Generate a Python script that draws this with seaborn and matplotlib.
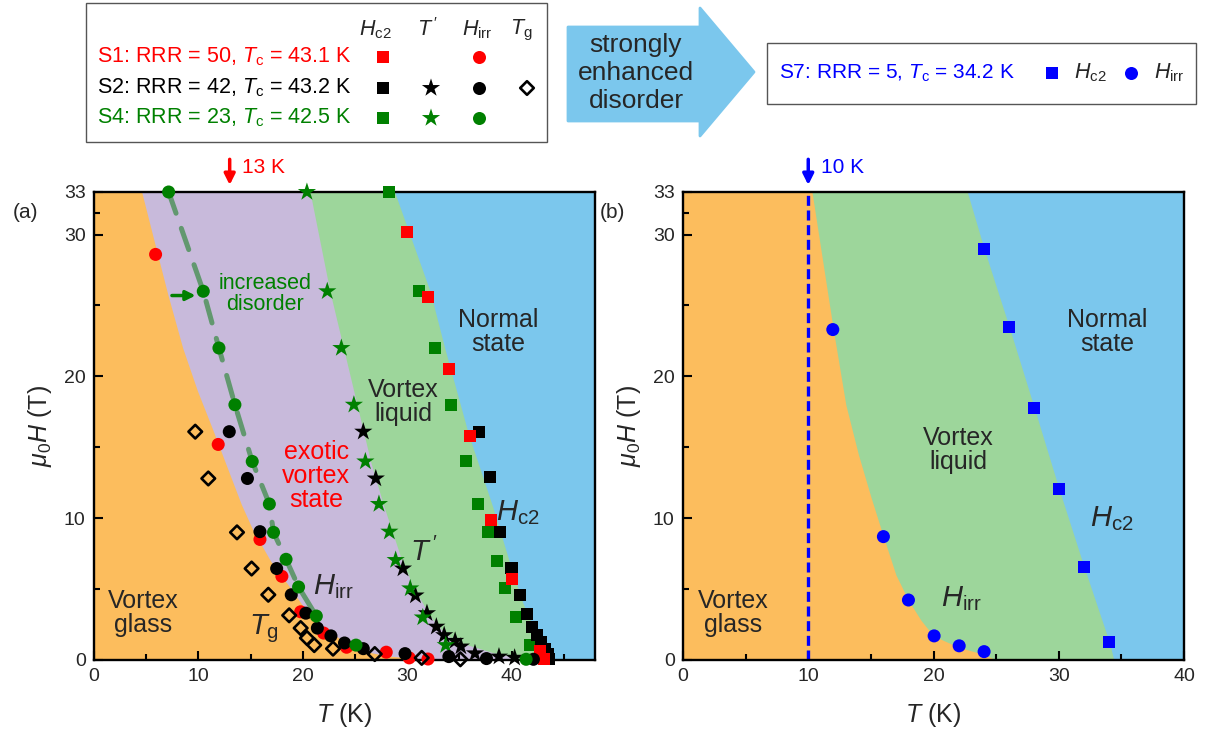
import numpy as np
import matplotlib
matplotlib.use('Agg')
import matplotlib.pyplot as plt
import seaborn as sns
from matplotlib.patches import Rectangle, Polygon

# =====================================================
# DATA  (T in K, mu0H in T)
# =====================================================
# ---- panel (a) ----
# S1: RRR = 50
s1_hc2_T = [29.95, 31.96, 33.97, 36.0, 38.0, 40.04, 42.7, 43.1]
s1_hc2_H = [30.2, 25.6, 20.5, 15.8, 9.9, 5.7, 0.6, 0.1]
s1_hirr_T = [5.9, 11.9, 15.9, 18.0, 19.8, 22.0, 24.2, 28.0, 30.2, 32.0]
s1_hirr_H = [28.6, 15.2, 8.5, 5.9, 3.4, 1.9, 0.9, 0.55, 0.15, 0.07]

# S2: RRR = 42
s2_hc2_T = [36.9, 37.9, 38.9, 40.0, 40.8, 41.5, 42.0, 42.4, 42.8, 43.2, 43.5, 43.6]
s2_hc2_H = [16.1, 12.9, 9.05, 6.5, 4.6, 3.25, 2.3, 1.75, 1.3, 0.8, 0.42, 0.1]
s2_tp_T = [25.8, 27.0, 29.6, 30.8, 31.9, 32.8, 33.55, 34.6, 35.15, 36.5, 38.8, 40.3]
s2_tp_H = [16.1, 12.8, 6.45, 4.55, 3.3, 2.35, 1.75, 1.35, 0.95, 0.47, 0.24, 0.16]
s2_hirr_T = [12.96, 14.7, 15.9, 17.5, 18.9, 20.3, 21.4, 22.7, 24.0, 25.8, 29.8, 34.0, 37.6, 42.1]
s2_hirr_H = [16.1, 12.8, 9.05, 6.45, 4.6, 3.3, 2.25, 1.7, 1.2, 0.8, 0.45, 0.24, 0.1, 0.05]
s2_tg_T = [9.7, 10.95, 13.7, 15.1, 16.7, 18.7, 19.8, 20.4, 21.1, 22.9, 26.9, 31.4, 35.1]
s2_tg_H = [16.1, 12.8, 9.0, 6.45, 4.6, 3.15, 2.25, 1.55, 1.05, 0.8, 0.42, 0.15, 0.05]

# S4: RRR = 23
s4_hc2_T = [28.3, 31.1, 32.7, 34.2, 35.6, 36.75, 37.75, 38.6, 39.4, 40.4, 41.8]
s4_hc2_H = [33.0, 26.0, 22.0, 18.0, 14.0, 11.0, 9.05, 7.0, 5.05, 3.05, 1.05]
s4_tp_T = [20.4, 22.35, 23.7, 24.9, 26.0, 27.3, 28.3, 28.9, 30.3, 31.5, 33.7]
s4_tp_H = [33.0, 26.0, 22.0, 18.0, 14.0, 11.0, 9.05, 7.05, 5.05, 3.0, 1.05]
s4_hirr_T = [7.15, 10.47, 11.97, 13.5, 15.16, 16.8, 17.2, 18.4, 19.6, 21.3, 25.1, 41.4]
s4_hirr_H = [33.0, 26.0, 22.0, 18.0, 14.0, 11.0, 9.0, 7.1, 5.15, 3.1, 1.05, 0.05]

# phase boundaries of panel (a)
a_hirr_bH = [33, 29, 25.7, 22, 19, 16.2, 13.5, 11, 9.2, 7, 5.1, 3.5, 2.3, 1.2, 0.6, 0.3, 0.12, 0]
a_hirr_bT = [4.57, 5.95, 7.1, 8.5, 9.9, 11.4, 12.8, 14.1, 15.2, 16.9, 18.8, 20.3, 21.9, 24.2,
             26.0, 28.0, 30.5, 33.0]
a_tp_bH = [33, 26, 22, 18, 14, 11, 9, 7, 5, 3, 1.8, 1.2, 0.5, 0.1, 0]
a_tp_bT = [20.7, 22.6, 23.9, 25.2, 26.5, 27.7, 28.6, 29.5, 30.7, 32.3, 33.7, 35.2, 38.3, 41.0, 42.0]
a_hc2_bH = [33, 26, 22, 16, 15, 10.8, 6.8, 4, 1.6, 0]
a_hc2_bT = [28.8, 32.2, 33.6, 35.85, 36.3, 38.2, 39.85, 41.1, 42.5, 43.8]

# ---- panel (b) : S7, RRR = 5 ----
s7_hc2_T = [24.04, 26.04, 28.04, 30.03, 32.03, 34.03]
s7_hc2_H = [29.0, 23.5, 17.8, 12.04, 6.54, 1.29]
s7_hirr_T = [11.96, 16.0, 18.0, 20.05, 22.05, 24.04]
s7_hirr_H = [23.3, 8.7, 4.23, 1.7, 1.0, 0.59]

b_hirr_bH = [33, 29, 23.3, 18, 14.5, 11.5, 8.7, 6, 4.2, 2.8, 1.7, 0.9, 0.4, 0]
b_hirr_bT = [10.3, 11.0, 12.0, 13.0, 14.0, 15.0, 16.0, 17.0, 18.0, 19.0, 20.0, 22.0, 24.0, 25.0]
b_hc2_bH = [33, 29.0, 23.5, 17.8, 12.04, 6.54, 1.29, 0]
b_hc2_bT = [22.7, 24.04, 26.04, 28.04, 30.03, 32.03, 34.03, 34.4]

y_major = [0, 10, 20, 30, 33]
y_minor = [5, 15, 25, 31.5]

# colours
c_orange = '#FCBD5D'
c_purple = '#C8BADB'
c_green_bg = '#9DD69B'
c_blue_bg = '#7BC7ED'
c_red = '#FF0000'
c_grn = '#008000'
c_blk = '#000000'
c_blu = '#0000FF'

# =====================================================
# STYLE
# =====================================================
sns.set_theme(style='ticks')
plt.rcParams['font.family'] = ['Liberation Sans', 'DejaVu Sans']
plt.rcParams['mathtext.fontset'] = 'custom'
plt.rcParams['mathtext.rm'] = 'Liberation Sans'
plt.rcParams['mathtext.it'] = 'Liberation Sans:italic'
plt.rcParams['mathtext.bf'] = 'Liberation Sans:bold'

fig = plt.figure(figsize=(12.06, 7.35), dpi=100)
W, Hpx = 1206, 735
ax_a = fig.add_axes([94 / W, 1 - 660 / Hpx, (595 - 94) / W, (660 - 192) / Hpx])
ax_b = fig.add_axes([683 / W, 1 - 660 / Hpx, (1184 - 683) / W, (660 - 192) / Hpx])

SQ, CI, ST, DI = 75, 88, 190, 48
REG = 18


def style_axis(ax, xmax, xmajor, xminor):
    ax.set_xlim(0, xmax)
    ax.set_ylim(0, 33)
    ax.set_xticks(xmajor)
    ax.set_xticks(xminor, minor=True)
    ax.set_yticks(y_major)
    ax.set_yticks(y_minor, minor=True)
    ax.tick_params(which='both', direction='in', top=False, right=False,
                   width=1.5, labelsize=14, pad=6, color='black')
    ax.tick_params(which='major', length=6.5)
    ax.tick_params(which='minor', length=4)
    for sp in ax.spines.values():
        sp.set_linewidth(1.7)
        sp.set_color('black')
    ax.set_xlabel(r'$T$ (K)', fontsize=18, labelpad=11)
    ax.set_ylabel(r'$\mu_0H$ (T)', fontsize=18, labelpad=7)


def scat(ax, x, y, marker, color, s, z=4):
    sns.scatterplot(x=x, y=y, ax=ax, marker=marker, color=color, s=s,
                    linewidth=0, edgecolor='none', clip_on=False, zorder=z)


# =====================================================
# PANEL (a)
# =====================================================
ax = ax_a
ax.set_facecolor(c_blue_bg)
ax.fill_betweenx(a_hc2_bH, 0, a_hc2_bT, color=c_green_bg, lw=0, zorder=0)
ax.fill_betweenx(a_tp_bH, 0, a_tp_bT, color=c_purple, lw=0, zorder=0)
ax.fill_betweenx(a_hirr_bH, 0, a_hirr_bT, color=c_orange, lw=0, zorder=0)

# guide line through S4 H_irr
ax.plot(s4_hirr_T[:10], s4_hirr_H[:10], color='#62986F', lw=3.6,
        dashes=(4.5, 3.2), dash_capstyle='round', zorder=2, clip_on=False)

scat(ax, s4_hc2_T, s4_hc2_H, 's', c_grn, SQ, 4)
scat(ax, s2_hc2_T, s2_hc2_H, 's', c_blk, SQ, 4)
scat(ax, s1_hc2_T, s1_hc2_H, 's', c_red, SQ, 4)
scat(ax, s2_tp_T, s2_tp_H, '*', c_blk, ST, 4)
scat(ax, s4_tp_T, s4_tp_H, '*', c_grn, ST, 4)
scat(ax, s1_hirr_T, s1_hirr_H, 'o', c_red, CI, 4)
scat(ax, s2_hirr_T, s2_hirr_H, 'o', c_blk, CI, 4)
scat(ax, s4_hirr_T, s4_hirr_H, 'o', c_grn, CI, 4)
sns.scatterplot(x=s2_tg_T, y=s2_tg_H, ax=ax, marker='D', s=DI,
                facecolor='none', edgecolor='black', linewidth=1.9,
                clip_on=False, zorder=5)

style_axis(ax, 48, [0, 10, 20, 30, 40], [5, 15, 25, 35, 45])

ax.annotate('', xy=(10.0, 25.7), xytext=(7.2, 25.7),
            arrowprops=dict(arrowstyle='-|>', color=c_grn, lw=2.5, mutation_scale=14))
ax.text(16.4, 25.8, 'increased\ndisorder', color=c_grn, fontsize=15.5,
        ha='center', va='center', linespacing=1.0)
ax.text(21.3, 13.0, 'exotic\nvortex\nstate', color=c_red, fontsize=REG,
        ha='center', va='center', linespacing=1.0)
ax.text(29.6, 18.2, 'Vortex\nliquid', fontsize=REG, ha='center', va='center',
        linespacing=1.0)
ax.text(38.7, 23.1, 'Normal\nstate', fontsize=REG, ha='center', va='center',
        linespacing=1.0)
ax.text(4.7, 3.3, 'Vortex\nglass', fontsize=REG, ha='center', va='center',
        linespacing=1.0)
ax.text(22.9, 5.2, r'$H_{\rm irr}$', fontsize=21, ha='center', va='center')
ax.text(16.3, 2.2, r'$T_{\rm g}$', fontsize=21, ha='center', va='center')
ax.text(31.6, 7.6, r'$T^{\,\prime}$', fontsize=21, ha='center', va='center')
ax.text(40.6, 10.4, r'$H_{\rm c2}$', fontsize=21, ha='center', va='center')

ax.annotate('', xy=(13.0, 33.3), xytext=(13.0, 35.5), annotation_clip=False,
            arrowprops=dict(arrowstyle='-|>', color=c_red, lw=2.5, mutation_scale=16))
ax.text(16.2, 34.75, '13 K', color=c_red, fontsize=15, ha='center', va='center')

# =====================================================
# PANEL (b)
# =====================================================
ax = ax_b
ax.set_facecolor(c_blue_bg)
ax.fill_betweenx(b_hc2_bH, 0, b_hc2_bT, color=c_green_bg, lw=0, zorder=0)
ax.fill_betweenx(b_hirr_bH, 0, b_hirr_bT, color=c_orange, lw=0, zorder=0)
ax.axvline(10, color=c_blu, lw=2.4, dashes=(3, 1.4), zorder=2)

scat(ax, s7_hc2_T, s7_hc2_H, 's', c_blu, SQ, 4)
scat(ax, s7_hirr_T, s7_hirr_H, 'o', c_blu, CI, 4)

style_axis(ax, 40, [0, 10, 20, 30, 40], [5, 15, 25, 35])

ax.text(4.0, 3.3, 'Vortex\nglass', fontsize=REG, ha='center', va='center',
        linespacing=1.0)
ax.text(22.0, 14.8, 'Vortex\nliquid', fontsize=REG, ha='center', va='center',
        linespacing=1.0)
ax.text(33.9, 23.1, 'Normal\nstate', fontsize=REG, ha='center', va='center',
        linespacing=1.0)
ax.text(34.2, 10.0, r'$H_{\rm c2}$', fontsize=21, ha='center', va='center')
ax.text(22.2, 4.3, r'$H_{\rm irr}$', fontsize=21, ha='center', va='center')

ax.annotate('', xy=(10.0, 33.3), xytext=(10.0, 35.5), annotation_clip=False,
            arrowprops=dict(arrowstyle='-|>', color=c_blu, lw=2.5, mutation_scale=16))
ax.text(12.7, 34.75, '10 K', color=c_blu, fontsize=15, ha='center', va='center')

# panel letters
fig.text(25 / W, 1 - 213 / Hpx, '(a)', fontsize=15, ha='center', va='center')
fig.text(612 / W, 1 - 213 / Hpx, '(b)', fontsize=15, ha='center', va='center')

# =====================================================
# HEADER (legend boxes + arrow), pixel coordinates
# =====================================================
hdr = fig.add_axes([0, 0, 1, 1], zorder=-1)
hdr.set_xlim(0, W)
hdr.set_ylim(Hpx, 0)
hdr.axis('off')
hdr.patch.set_alpha(0)

hdr.add_patch(Rectangle((86, 3), 461, 139, fill=False, edgecolor='#555555', lw=1.0))
for x, lab in [(375, r'$H_{\rm c2}$'), (428, r'$T^{\,\prime}$'),
               (477, r'$H_{\rm irr}$'), (521, r'$T_{\rm g}$')]:
    hdr.text(x, 30, lab, fontsize=15.5, ha='center', va='center')

rows = [(57, c_red, r'S1: RRR = 50, $T_{\rm c}$ = 43.1 K'),
        (88, c_blk, r'S2: RRR = 42, $T_{\rm c}$ = 43.2 K'),
        (118, c_grn, r'S4: RRR = 23, $T_{\rm c}$ = 42.5 K')]
for y, col, lab in rows:
    hdr.text(97, y, lab, color=col, fontsize=15.5, ha='left', va='center')
    hdr.scatter([383], [y], marker='s', color=col, s=SQ, lw=0)
    hdr.scatter([479], [y], marker='o', color=col, s=CI, lw=0)
hdr.scatter([431, 431], [88, 118], marker='*', color=[c_blk, c_grn], s=ST, lw=0)
hdr.scatter([527], [88], marker='D', facecolor='none', edgecolor='black', s=DI, lw=1.9)

hdr.add_patch(Polygon([(568, 27), (700, 27), (700, 8), (754, 72), (700, 136),
                       (700, 121), (568, 121)], closed=True,
                      facecolor=c_blue_bg, edgecolor=c_blue_bg, lw=2, joinstyle='round'))
hdr.text(636, 73, 'strongly\nenhanced\ndisorder', fontsize=19, ha='center',
         va='center', linespacing=1.2)

hdr.add_patch(Rectangle((767, 43), 429, 61, fill=False, edgecolor='#555555', lw=1.0))
hdr.text(779, 73, r'S7: RRR = 5, $T_{\rm c}$ = 34.2 K', color=c_blu, fontsize=15,
         ha='left', va='center')
hdr.scatter([1052], [73], marker='s', color=c_blu, s=SQ, lw=0)
hdr.text(1074, 73, r'$H_{\rm c2}$', fontsize=15.5, ha='left', va='center')
hdr.scatter([1131], [73], marker='o', color=c_blu, s=CI, lw=0)
hdr.text(1154, 73, r'$H_{\rm irr}$', fontsize=15.5, ha='left', va='center')

fig.savefig('out.png', dpi=100)
